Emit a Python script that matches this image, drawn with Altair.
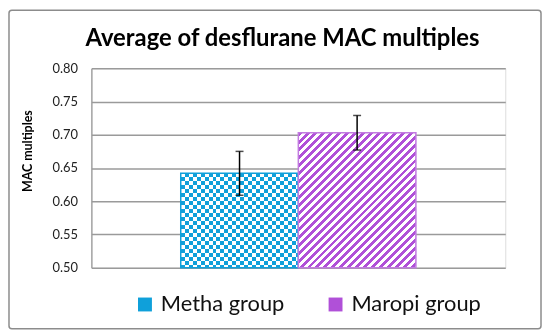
import altair as alt
import pandas as pd

# ---- data ----
groups = ["Metha group", "Maropi group"]
means = [0.642, 0.703]
errs = [0.033, 0.026]
y_ticks = [0.50, 0.55, 0.60, 0.65, 0.70, 0.75, 0.80]

df = pd.DataFrame({"group": groups, "mean": means, "err": errs})
df["lo"] = df["mean"] - df["err"]
df["hi"] = df["mean"] + df["err"]

# ---- style ----
CYAN = "#0FA0DA"
CYAN_INV = "#F05F25"  # complement of CYAN (checker built with difference blending)
PURPLE = "#B050D8"
PURPLE_EDGE = "#C27CE0"
GRID = "#9A9A9A"
FONT = "Lato"

PW, PH = 417, 201
Y0, Y1 = 0.50, 0.80
PAD_OUT = 0.76
bar_w = PW / (len(groups) + 2 * PAD_OUT)


def bar_h(v):
    return (v - Y0) / (Y1 - Y0) * PH


def stripes(c1, c2, frac, x2, y2):
    stops = []
    k = 0
    while k * frac < 1:
        a = k * frac
        m = min(a + frac / 2, 1)
        b = min(a + frac, 1)
        stops += [
            alt.GradientStop(offset=a, color=c1),
            alt.GradientStop(offset=m, color=c1),
            alt.GradientStop(offset=m, color=c2),
            alt.GradientStop(offset=b, color=c2),
        ]
        k += 1
    return alt.LinearGradient(gradient="linear", stops=stops, x1=0, y1=0, x2=x2, y2=y2)


PERIOD = 8.0
h_m = bar_h(means[0])
h_p = bar_h(means[1])
vert = stripes(CYAN_INV, "#000000", PERIOD / bar_w, 1, 0)
horiz = stripes(CYAN_INV, "#000000", PERIOD / h_m, 0, 1)
diag = stripes(PURPLE, "#FFFFFF", PERIOD * bar_w / (bar_w ** 2 + h_p ** 2), 1, h_p / bar_w)

y_axis = alt.Axis(values=y_ticks, format=".2f", title="MAC multiples",
                  titleFont=FONT, titleFontSize=12.5, titleFontWeight="bold",
                  titleColor="#000", titleX=-64, titleY=83,
                  titleBaseline="middle",
                  labelFont=FONT, labelFontSize=13, labelColor="#222",
                  labelPadding=14, ticks=False, grid=True,
                  gridColor=GRID, gridWidth=1.3,
                  domain=True, domainColor=GRID, domainWidth=1.3)
y_scale = alt.Scale(domain=[Y0, Y1], zero=False, nice=False)

x_enc = alt.X("group:N", sort=groups,
              scale=alt.Scale(paddingInner=0, paddingOuter=PAD_OUT),
              axis=None)
y_enc = alt.Y("mean:Q", scale=y_scale, axis=y_axis)
y_lo = alt.Y("lo:Q", scale=y_scale, axis=y_axis)
y_hi = alt.Y("hi:Q", scale=y_scale, axis=y_axis)

base = alt.Chart(df)

legend_bars = base.mark_bar().encode(
    x=x_enc, y=y_enc, y2=alt.datum(Y0),
    color=alt.Color("group:N", sort=groups,
                    scale=alt.Scale(domain=groups, range=[CYAN, PURPLE]),
                    legend=alt.Legend(title=None, orient="none", legendX=43, legendY=227,
                                      direction="horizontal", symbolType="square",
                                      symbolSize=196, symbolStrokeWidth=0,
                                      labelFont=FONT, labelFontSize=22, labelColor="#111",
                                      labelOffset=5, columnPadding=40)),
)

metha = base.transform_filter(alt.datum.group == groups[0])
maropi = base.transform_filter(alt.datum.group == groups[1])

mA = metha.mark_bar(fill=vert).encode(x=x_enc, y=y_enc, y2=alt.datum(Y0))
mB = metha.mark_bar(fill=horiz, blend="difference").encode(x=x_enc, y=y_enc, y2=alt.datum(Y0))
mC = metha.mark_bar(fill="#FFFFFF", blend="difference").encode(x=x_enc, y=y_enc, y2=alt.datum(Y0))
mE = metha.mark_bar(fillOpacity=0, stroke=CYAN, strokeWidth=1.5).encode(x=x_enc, y=y_enc, y2=alt.datum(Y0))

pA = maropi.mark_bar(fill=diag).encode(x=x_enc, y=y_enc, y2=alt.datum(Y0))
pE = maropi.mark_bar(fillOpacity=0, stroke=PURPLE_EDGE, strokeWidth=1.5).encode(x=x_enc, y=y_enc, y2=alt.datum(Y0))

rules = base.mark_rule(color="#000", strokeWidth=1.5).encode(x=x_enc, y=y_lo, y2="hi:Q")
caps_lo = base.mark_tick(color="#000", thickness=1.5, size=8).encode(x=x_enc, y=y_lo)
caps_hi = base.mark_tick(color="#000", thickness=1.5, size=8).encode(x=x_enc, y=y_hi)

border = alt.Chart(pd.DataFrame({"k": [0]})).mark_rect(
    fillOpacity=0, stroke="#8C8C8C", strokeWidth=1.5, cornerRadius=3
).encode(x=alt.value(-83), y=alt.value(-58.5), x2=alt.value(453), y2=alt.value(262.5))

chart = alt.layer(
    legend_bars, mA, mB, mC, mE, pA, pE, rules, caps_lo, caps_hi, border
).properties(
    width=PW, height=PH,
    autosize=alt.AutoSizeParams(type="none"),
    padding={"left": 84, "top": 59.5, "right": 37, "bottom": 63},
    title=alt.Title("Average of desflurane MAC multiples", font=FONT, fontSize=24,
                    fontWeight="bold", color="#000", anchor="middle", dx=-16,
                    offset=10, dy=52),
).configure_view(stroke=None).configure(background="white")

chart.save("out.html", embed_options={"renderer": "svg", "actions": False})
